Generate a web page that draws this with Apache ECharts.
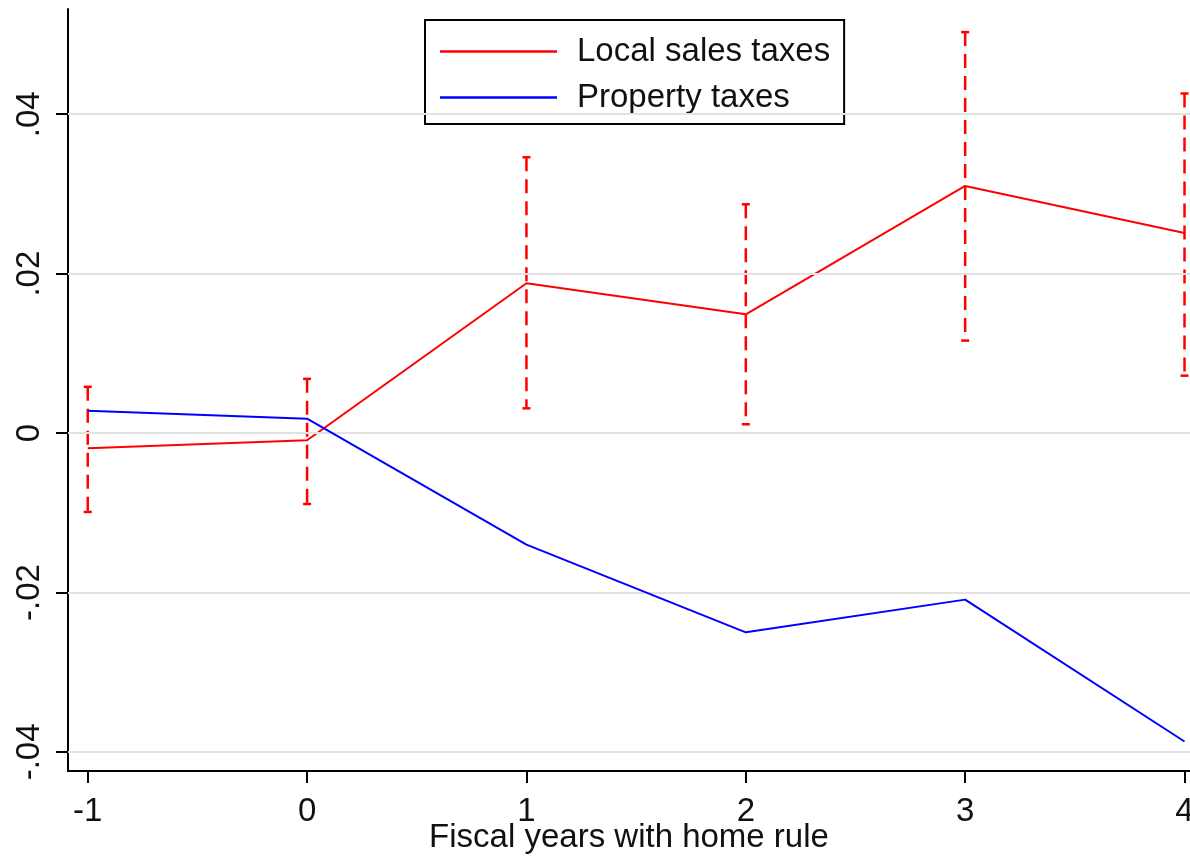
<!DOCTYPE html>
<html><head><meta charset="utf-8">
<script src="https://cdn.jsdelivr.net/npm/echarts@6/dist/echarts.min.js"></script>
<style>html,body{margin:0;padding:0;background:#fff;overflow:hidden;width:100%;height:100%}#c{position:absolute;left:0;top:0;width:1190px;height:856px}</style>
</head><body><div id="c"></div>
<script>
const years = [-1, 0, 1, 2, 3, 4];
const salesEst = [-0.0019, -0.0009, 0.0188, 0.0149, 0.0310, 0.0251];
const salesLo = [-0.0099, -0.0089, 0.0031, 0.0011, 0.0116, 0.0072];
const salesHi = [0.0058, 0.0068, 0.0346, 0.0287, 0.0503, 0.0426];
const propEst = [0.0028, 0.0018, -0.0140, -0.0250, -0.0209, -0.0387];
const yTickValues = [-0.04, -0.02, 0, 0.02, 0.04];
const yTickLabels = ['-.04', '-.02', '0', '.02', '.04'];
const xTickValues = [-1, 0, 1, 2, 3, 4];
const xTickLabels = ['-1', '0', '1', '2', '3', '4'];
const seriesNames = ['Local sales taxes', 'Property taxes'];

const chart = echarts.init(document.getElementById('c'), null, {renderer: 'canvas', width: 1190, height: 856});
const font = 'Liberation Sans, Arial, sans-serif';
const txt = '#111';

const option = {
  animation: false,
  backgroundColor: '#fff',
  grid: {left: 68, right: 0, top: 9, bottom: 85, containLabel: false, outerBoundsMode: 'none'},
  legend: {
    left: 425, top: 20, orient: 'vertical', selectedMode: false,
    backgroundColor: '#fff', borderColor: '#000', borderWidth: 2,
    padding: [15, 14, 10, 15], itemGap: 13,
    itemWidth: 117, itemHeight: 2.5,
    textStyle: {fontSize: 33, fontFamily: font, color: txt, padding: [0, 0, 0, 15]},
    data: [{name: seriesNames[0], icon: 'rect'}, {name: seriesNames[1], icon: 'rect'}]
  },
  xAxis: {
    type: 'value', min: -1.09, max: 4.025,
    name: 'Fiscal years with home rule', nameLocation: 'middle', nameGap: 50, nameMoveOverlap: false,
    nameTextStyle: {fontSize: 33, fontFamily: font, color: txt},
    axisLine: {show: true, onZero: false, lineStyle: {color: '#000', width: 2}},
    axisTick: {show: true, length: 12, lineStyle: {color: '#000', width: 2}, customValues: xTickValues},
    axisLabel: {fontSize: 33, fontFamily: font, color: txt, margin: 24, customValues: xTickValues,
      formatter: v => { const i = xTickValues.findIndex(t => Math.abs(t - v) < 1e-9); return i >= 0 ? xTickLabels[i] : ''; }},
    splitLine: {show: false}
  },
  yAxis: {
    type: 'value', min: -0.0424, max: 0.0532,
    axisLine: {show: true, onZero: false, lineStyle: {color: '#000', width: 2}},
    axisTick: {show: true, length: 12, lineStyle: {color: '#000', width: 2}, customValues: yTickValues},
    axisLabel: {fontSize: 33, fontFamily: font, color: txt, rotate: 90, margin: 22, customValues: yTickValues,
      formatter: v => { const i = yTickValues.findIndex(t => Math.abs(t - v) < 1e-9); return i >= 0 ? yTickLabels[i] : ''; }},
    splitLine: {show: false}
  },
  series: [
    {
      name: 'grid', type: 'line', data: [], z: 1, silent: true,
      markLine: {
        silent: true, symbol: ['none', 'none'], label: {show: false},
        lineStyle: {color: '#e2e2e2', width: 2, type: 'solid'},
        emphasis: {disabled: true},
        data: yTickValues.map(v => ({yAxis: v}))
      }
    },
    {
      name: 'ci', type: 'custom', z: 3, silent: true,
      data: years.map((x, i) => [x, salesLo[i], salesHi[i]]),
      encode: {x: 0, y: [1, 2]},
      renderItem: function (params, api) {
        const x = api.value(0), lo = api.value(1), hi = api.value(2);
        const pLo = api.coord([x, lo]), pHi = api.coord([x, hi]);
        const cw = 4;
        const st = {stroke: '#ff0000', lineWidth: 2.5, fill: null};
        return {type: 'group', children: [
          {type: 'line', shape: {x1: pHi[0], y1: pHi[1], x2: pLo[0], y2: pLo[1]}, style: Object.assign({}, st, {lineDash: [14, 8]})},
          {type: 'line', shape: {x1: pHi[0] - cw, y1: pHi[1], x2: pHi[0] + cw, y2: pHi[1]}, style: st},
          {type: 'line', shape: {x1: pLo[0] - cw, y1: pLo[1], x2: pLo[0] + cw, y2: pLo[1]}, style: st}
        ]};
      }
    },
    {
      name: seriesNames[0], type: 'line', z: 4, symbol: 'none', showSymbol: false,
      color: '#ff0000', lineStyle: {color: '#ff0000', width: 2},
      data: years.map((x, i) => [x, salesEst[i]])
    },
    {
      name: seriesNames[1], type: 'line', z: 5, symbol: 'none', showSymbol: false,
      color: '#0000ff', lineStyle: {color: '#0000ff', width: 2},
      data: years.map((x, i) => [x, propEst[i]])
    }
  ]
};
chart.setOption(option);
</script>
</body></html>
